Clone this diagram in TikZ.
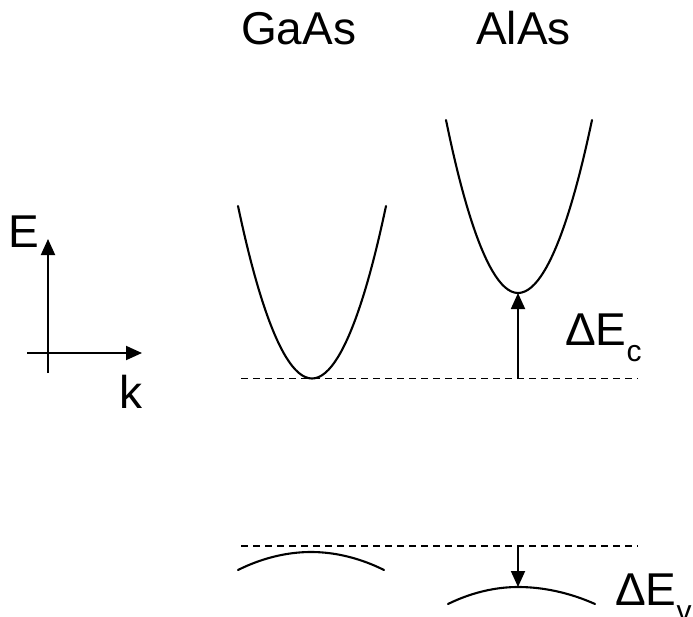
\documentclass[tikz,border=0pt]{standalone}
\usepackage{fontspec}
\setmainfont{Liberation Sans}
\usetikzlibrary{arrows.meta}

% Pedice abbassato (come nel disegno originale)
\newcommand{\bandsub}[1]{\raisebox{-16pt}{\fontsize{30}{32}\selectfont #1}}

\begin{document}
\begin{tikzpicture}[
            % Coordinate in pixel dell'immagine (y verso il basso)
            x={(1pt,0pt)}, y={(0pt,-1pt)},
            % Stili delle linee e delle etichette
            band/.style={line width=2.1pt, line cap=round},
            level/.style={line width=1.7pt, dash pattern=on 7pt off 5pt},
            axis/.style={line width=1.9pt, -{Triangle[length=16pt,width=14pt]}},
            offset/.style={line width=1.8pt, -{Triangle[length=16pt,width=14pt]}},
            label/.style={inner sep=0pt, anchor=base west, font=\fontsize{46}{50}\selectfont}
        ]
        \useasboundingbox (0,0) rectangle (693,616);

        % ==============================
        % 1. ASSI E - k
        % ==============================
        \coordinate (ebottom) at (48,373);
        \coordinate (etip) at (48,239);
        \coordinate (kstart) at (27,353);
        \coordinate (ktip) at (142,353);
        \draw[axis] (ebottom) -- (etip);
        \draw[axis] (kstart) -- (ktip);
        \node[label] (elabel) at (8.5,247) {E};
        \node[label] (klabel) at (119,408) {k};

        % ==============================
        % 2. TITOLI
        % ==============================
        \node[label] (gaas) at (241,44) {GaAs};
        \node[label] (alas) at (476,44) {AlAs};

        % ==============================
        % 3. BANDE DI CONDUZIONE
        % ==============================
        \draw[band] (238,206) parabola bend (312,378.5) (386,206);
        \draw[band] (446,120) parabola bend (518,293) (592,120);
        % Livello di riferimento
        \draw[level] (241,378.5) -- (638,378.5);

        % Discontinuita' DeltaEc
        \coordinate (cref) at (518,378.5);
        \coordinate (cmin) at (518,293);
        \draw[offset] (cref) -- (cmin);
        \node[label] (dec) at (565,345) {ΔE\bandsub{c}};

        % ==============================
        % 4. BANDE DI VALENZA
        % ==============================
        \draw[level] (241,546) -- (638,546);
        \draw[band] (238,570) parabola bend (311,552) (384,570);
        \draw[band] (448,604) parabola bend (518,587) (595,604);

        % Discontinuita' DeltaEv
        \coordinate (vref) at (518,546);
        \coordinate (vmax) at (518,587);
        \draw[offset] (vref) -- (vmax);
        \node[label] (dev) at (615,605) {ΔE\bandsub{v}};

\end{tikzpicture}
\end{document}
